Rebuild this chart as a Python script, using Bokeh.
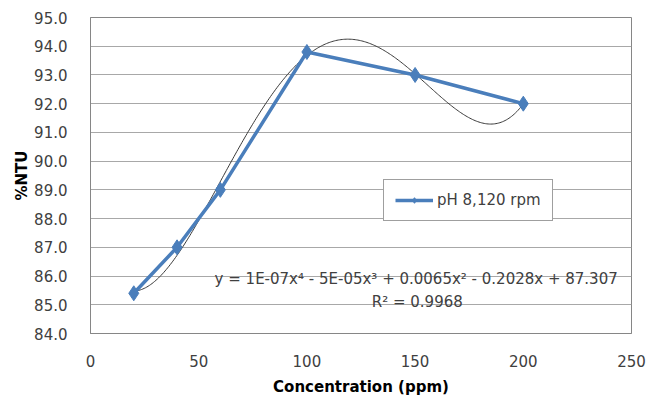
import numpy as np
from bokeh.plotting import figure
from bokeh.models import Label, Legend, LegendItem, FixedTicker, NumeralTickFormatter, Range1d
from bokeh.embed import file_html
from bokeh.resources import INLINE

concentration = [20, 40, 60, 100, 150, 200]
ntu_pct = [85.4, 87.0, 89.0, 93.8, 93.0, 92.0]
series_name = "pH 8,120 rpm"
equation = "y = 1E-07x\u2074 - 5E-05x\u00b3 + 0.0065x\u00b2 - 0.2028x + 87.307"
r2_text = "R\u00b2 = 0.9968"
x_ticks = [0, 50, 100, 150, 200, 250]
y_ticks = [84, 85, 86, 87, 88, 89, 90, 91, 92, 93, 94, 95]

FONT = "DejaVu Sans"
TXT = "#404040"

p = figure(width=654, height=398, output_backend="svg", toolbar_location=None,
           x_range=Range1d(0, 250), y_range=Range1d(84, 95),
           min_border_left=90, min_border_right=23, min_border_top=17, min_border_bottom=63)

# trendline (4th-order polynomial fit of the data)
coef = np.polyfit(concentration, ntu_pct, 4)
xs = np.linspace(min(concentration), max(concentration), 300)
p.line(xs, np.polyval(coef, xs), line_color="#3a3a3a", line_width=1)

ln = p.line(concentration, ntu_pct, line_color="#4a7ebb", line_width=3.5)
mk = p.scatter(concentration, ntu_pct, marker="diamond", size=15,
               fill_color="#4a7ebb", line_color="#4a7ebb")

p.xaxis.ticker = FixedTicker(ticks=x_ticks)
p.yaxis.ticker = FixedTicker(ticks=y_ticks)
p.yaxis.formatter = NumeralTickFormatter(format="0.0")
p.xgrid.grid_line_color = None
p.ygrid.grid_line_color = "#a8a8a8"
p.ygrid.grid_line_width = 1
p.outline_line_color = "#868686"
p.outline_line_width = 1

for ax in (p.xaxis, p.yaxis):
    ax.axis_line_color = "#868686"
    ax.major_tick_line_color = None
    ax.minor_tick_line_color = None
    ax.major_label_text_font = FONT
    ax.major_label_text_font_size = "15px"
    ax.major_label_text_color = TXT
    ax.axis_label_text_font = FONT
    ax.axis_label_text_font_style = "bold"
    ax.axis_label_text_font_size = "15px"
    ax.axis_label_text_color = "#000000"

p.xaxis.axis_label = "Concentration (ppm)"
p.yaxis.axis_label = "%NTU"
p.xaxis.major_label_standoff = 15
p.yaxis.major_label_standoff = 17
p.xaxis.axis_label_standoff = 8
p.yaxis.axis_label_standoff = 0

p.add_layout(Label(x=150.5, y=85.9, text=equation, text_align="center", text_baseline="middle",
                   text_font=FONT, text_font_size="15px", text_color=TXT))
p.add_layout(Label(x=151, y=85.1, text=r2_text, text_align="center", text_baseline="middle",
                   text_font=FONT, text_font_size="15px", text_color=TXT))

legend = Legend(items=[LegendItem(label=series_name, renderers=[ln, mk])],
                location=(293, 112), border_line_color="#404040", border_line_width=1,
                label_text_font=FONT, label_text_font_size="15px", label_text_color=TXT,
                glyph_width=38, glyph_height=14, padding=11, margin=0, label_standoff=4,
                background_fill_alpha=1.0)
p.add_layout(legend)

open("out.html", "w").write(file_html(p, INLINE))
